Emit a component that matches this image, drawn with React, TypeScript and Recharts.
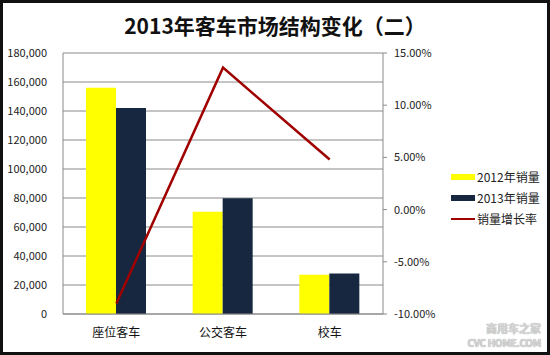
import { ComposedChart, Bar, Line, XAxis, YAxis, CartesianGrid, Legend } from 'recharts';

const categories = ['座位客车', '公交客车', '校车'];
const sales2012 = [156000, 70500, 27000];
const sales2013 = [142000, 79800, 28000];
const growthRate = [-0.09, 0.136, 0.048];

const leftTicks = [0, 20000, 40000, 60000, 80000, 100000, 120000, 140000, 160000, 180000];
const rightTicks = [-0.1, -0.05, 0, 0.05, 0.1, 0.15];

const data = categories.map((name, i) => ({
    name,
    s2012: sales2012[i],
    s2013: sales2013[i],
    rate: growthRate[i],
}));

const FONT = '"Noto Sans CJK SC", "Noto Sans", sans-serif';

const legendItems = [
    { label: '2012年销量', color: '#ffff00', type: 'rect' },
    { label: '2013年销量', color: '#16273f', type: 'rect' },
    { label: '销量增长率', color: '#a00000', type: 'line' },
];

const LegendContent = () => (
    <div style={{ fontFamily: FONT, fontSize: 12, color: '#222' }}>
        {legendItems.map((it) => (
            <div key={it.label} style={{ display: 'flex', alignItems: 'center', height: 21 }}>
                <span
                    style={{
                        display: 'inline-block',
                        width: 24,
                        height: it.type === 'rect' ? 6 : 2,
                        background: it.color,
                        marginRight: 2,
                    }}
                />
                {it.label}
            </div>
        ))}
    </div>
);

const App = () => {
    return (
        <div
            style={{
                position: 'absolute',
                left: 0,
                top: 0,
                width: 550,
                height: 355,
                border: '3px solid #111',
                boxSizing: 'border-box',
                background: '#fff',
                fontFamily: FONT,
            }}
        >
            <div
                style={{
                    position: 'absolute',
                    left: 0,
                    top: 7,
                    width: 544,
                    textAlign: 'center',
                    fontSize: 21,
                    fontWeight: 700,
                    color: '#111',
                }}
            >
                2013年客车市场结构变化（二）
            </div>
            <ComposedChart
                width={544}
                height={349}
                data={data}
                margin={{ top: 50, right: 14, bottom: 8, left: 0 }}
                barGap={0}
                style={{ position: 'absolute', left: 0, top: 0 }}
            >
                <CartesianGrid vertical={false} stroke="#8a8a8a" yAxisId="left" />
                <XAxis
                    dataKey="name"
                    height={30}
                    tickLine={false}
                    tickMargin={8}
                    stroke="#8a8a8a"
                    tick={{ fill: '#111', fontSize: 12, fontFamily: FONT }}
                />
                <YAxis
                    yAxisId="left"
                    width={60}
                    domain={[0, 180000]}
                    ticks={leftTicks}
                    interval={0}
                    tickLine={false}
                    tickMargin={10}
                    stroke="#8a8a8a"
                    tick={{ fill: '#222', fontSize: 11, fontFamily: FONT }}
                    tickFormatter={(v: number) => v.toLocaleString('en-US')}
                />
                <YAxis
                    yAxisId="right"
                    orientation="right"
                    width={60}
                    domain={[-0.1, 0.15]}
                    ticks={rightTicks}
                    interval={0}
                    tickSize={4}
                    tickMargin={7}
                    stroke="#8a8a8a"
                    tick={{ fill: '#222', fontSize: 11, fontFamily: FONT }}
                    tickFormatter={(v: number) => (v * 100).toFixed(2) + '%'}
                />
                <Legend
                    layout="vertical"
                    align="right"
                    verticalAlign="top"
                    width={90}
                    content={<LegendContent />}
                    wrapperStyle={{ left: 448, top: 163, right: 'auto' }}
                />
                <Bar yAxisId="left" dataKey="s2012" name="2012年销量" fill="#ffff00" barSize={30} isAnimationActive={false} />
                <Bar yAxisId="left" dataKey="s2013" name="2013年销量" fill="#16273f" barSize={30} isAnimationActive={false} />
                <Line
                    yAxisId="right"
                    type="linear"
                    dataKey="rate"
                    name="销量增长率"
                    stroke="#a00000"
                    strokeWidth={2.5}
                    dot={false}
                    isAnimationActive={false}
                />
            </ComposedChart>
            <div
                style={{
                    position: 'absolute',
                    right: 6,
                    bottom: 3,
                    textAlign: 'right',
                    color: '#d6d6d6',
                    fontFamily: FONT,
                    fontWeight: 700,
                    lineHeight: 1.35,
                    textShadow: '0 0 1px #888',
                }}
            >
                <div style={{ fontSize: 11 }}>商用车之家</div>
                <div style={{ fontSize: 10, letterSpacing: -0.3 }}>CVC HOME.COM</div>
            </div>
        </div>
    );
};

export default App;
